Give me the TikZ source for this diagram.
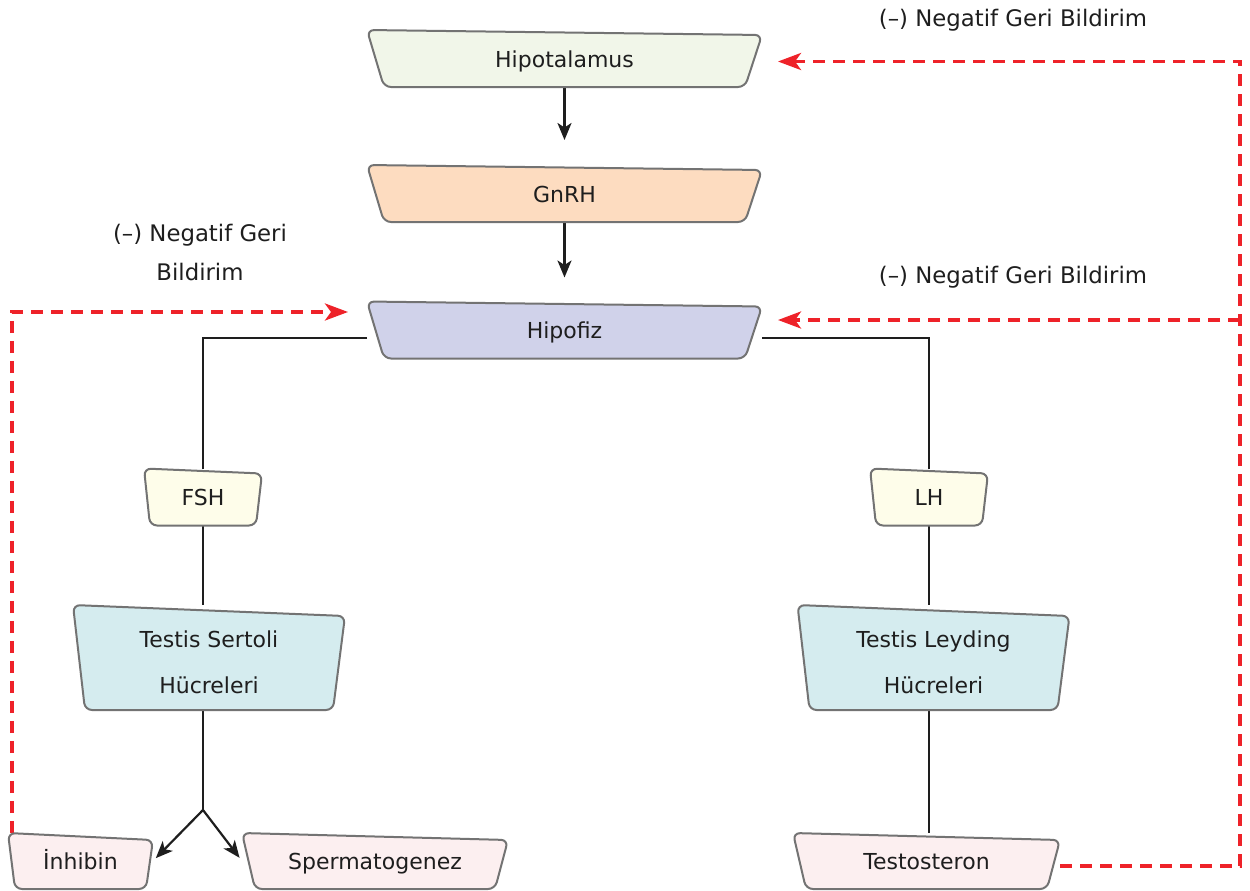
\documentclass[tikz,border=0pt]{standalone}
\usepackage{fontspec}
\setmainfont{DejaVu Sans}
\usetikzlibrary{arrows.meta,calc}
\definecolor{ink}{HTML}{1E1E1E}
\definecolor{edgegray}{HTML}{737373}
\definecolor{negred}{HTML}{EE2229}
\definecolor{fhyp}{HTML}{F1F6E9}
\definecolor{fgnrh}{HTML}{FDDCC0}
\definecolor{fhipo}{HTML}{D0D2EA}
\definecolor{fhorm}{HTML}{FEFDEA}
\definecolor{ftest}{HTML}{D5ECEF}
\definecolor{fout}{HTML}{FCEFF0}
\pgfdeclarelayer{links}
\pgfdeclarelayer{shapes}
\pgfsetlayers{links,shapes,main}
\tikzset{
  blk/.style={rectangle, inner sep=0pt, outer sep=0pt, text=ink,
    font=\fontsize{22}{26}\selectfont},
  oneline/.style={blk, text height=17pt, text depth=0pt},
  wide/.style={oneline, minimum width=395pt, minimum height=57pt},
  small/.style={oneline, minimum width=118pt, minimum height=57pt},
  cell/.style={blk, minimum width=272pt, minimum height=105pt, align=center,
    font=\fontsize{22}{46}\selectfont},
  outc/.style={oneline, minimum height=56pt},
  shapeline/.style={draw=edgegray, line width=2pt, rounded corners=7pt},
  arr/.style={draw=ink, line width=2.2pt, -{Stealth[length=17pt,width=14pt,inset=4.5pt]}},
  link/.style={draw=ink, line width=2.2pt},
  neg/.style={draw=negred, line width=3.6pt, dash pattern=on 12pt off 8pt,
    -{Stealth[length=23pt,width=17pt,inset=6pt]}},
  lbl/.style={text=ink, font=\fontsize{22.8}{39}\selectfont, align=center, inner sep=0pt}
}
% trapezoid outline behind a box node: name, side inset, top tilt, fill
\newcommand\tzTrap[4]{%
  \begin{pgfonlayer}{shapes}
    \filldraw[shapeline, fill=#4] (#1.north west) -- ([yshift=-#3]#1.north east)
      -- ([xshift=-#2]#1.south east) -- ([xshift=#2]#1.south west) -- cycle;
  \end{pgfonlayer}}
\newcommand\tzTop{\rule{0pt}{27pt}}
\begin{document}
\begin{tikzpicture}[x=1pt,y=-1pt]
\useasboundingbox (0,0) rectangle (1250,891);

% hormone cascade
\node[wide]  (hyp)  at (564.5,58.5) {Hipotalamus};
\node[wide]  (gnrh) at (564.5,193.5) {GnRH};
\node[wide]  (hipo) at (564.5,330) {Hipofiz};
\node[small] (fsh)  at (203,497) {FSH};
\node[small] (lh)   at (929,497) {LH};
\node[cell]  (sert) at (209,657.5) {\tzTop Testis Sertoli\\Hücreleri};
\node[cell]  (leyd) at (933.5,657.5) {\tzTop Testis Leyding\\Hücreleri};
\node[outc, minimum width=145pt] (inh)   at (80.5,861) {İnhibin};
\node[outc, minimum width=266pt] (sperm) at (375,861) {Spermatogenez};
\node[outc, minimum width=267pt] (testo) at (926.5,861) {Testosteron};

\tzTrap{hyp}{17pt}{5pt}{fhyp}
\tzTrap{gnrh}{17pt}{5pt}{fgnrh}
\tzTrap{hipo}{17pt}{5pt}{fhipo}
\tzTrap{fsh}{6pt}{5pt}{fhorm}
\tzTrap{lh}{6pt}{5pt}{fhorm}
\tzTrap{sert}{12pt}{11pt}{ftest}
\tzTrap{leyd}{12pt}{11pt}{ftest}
\tzTrap{inh}{7pt}{7pt}{fout}
\tzTrap{sperm}{13pt}{7pt}{fout}
\tzTrap{testo}{13pt}{7pt}{fout}

% feedback labels
\node[lbl] (lab1) at (1013,20) {(–) Negatif Geri Bildirim};
\node[lbl] (lab2) at (1013,277) {(–) Negatif Geri Bildirim};
\node[lbl] (lab3) at (200,252) {(–) Negatif Geri\\Bildirim};

\begin{pgfonlayer}{links}
% stimulation path
\draw[arr, shorten >=25pt] (hyp) -- (gnrh);
\draw[arr, shorten >=24pt] (gnrh) -- (hipo);
\draw[link] ([yshift=-8pt]hipo.west) -| (fsh.north);
\draw[link] ([yshift=-8pt]hipo.east) -| (lh.north);
\draw[link] (fsh.south) -- (fsh.south |- sert.north);
\draw[link] (lh.south) -- (lh.south |- leyd.north);
\draw[link] (leyd.south -| lh.south) -- (lh.south |- testo.north);
\coordinate (split) at ($(fsh.south |- sert.south)+(0,100)$);
\draw[link] (fsh.south |- sert.south) -- (split);
\draw[arr, shorten >=4pt] (split) -- (inh.east);
\draw[arr, shorten >=4pt] (split) -- (sperm.west);

% negative feedback loops
\coordinate (rx) at (1240,0);
\coordinate (lx) at (12,0);
\draw[neg, shorten >=16pt] ([yshift=-5pt]testo.east) -- ([yshift=-5pt]testo.east -| rx) |- ([yshift=-3pt]hyp.east);
\draw[neg, shorten >=16pt] ([yshift=10pt]hipo.east -| rx) -- ([yshift=10pt]hipo.east);
\draw[neg, shorten >=19pt] (inh.north -| lx) |- ([yshift=18pt]hipo.west);
\end{pgfonlayer}
\end{tikzpicture}
\end{document}
